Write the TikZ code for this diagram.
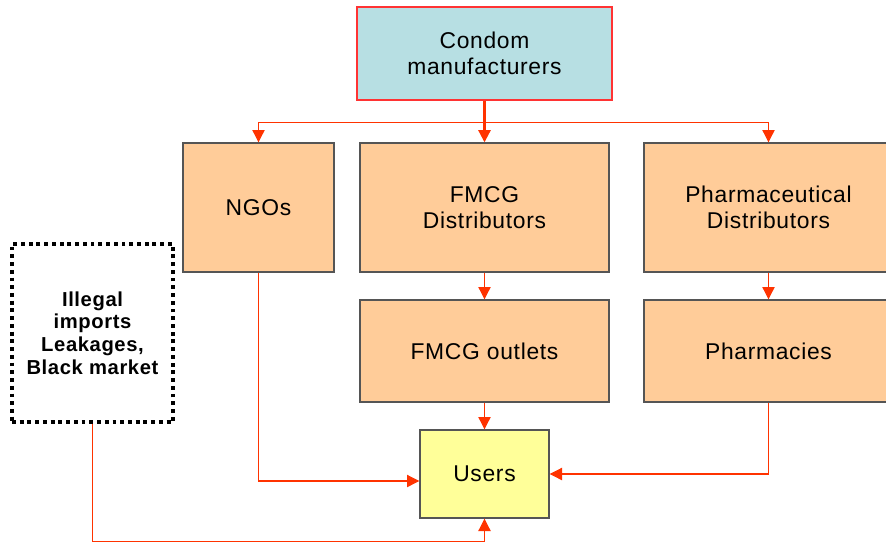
\documentclass[tikz,border=0pt]{standalone}
\usepackage{fontspec}
\setmainfont[LetterSpace=3]{Liberation Sans}
\usetikzlibrary{arrows.meta}
\definecolor{boxcyan}{HTML}{B7DFE3}
\definecolor{boxorange}{HTML}{FFCC99}
\definecolor{boxyellow}{HTML}{FFFF99}
\definecolor{linkred}{HTML}{FF3300}
\definecolor{edgegray}{HTML}{555555}

\begin{document}
\begin{tikzpicture}[->,>={Triangle[length=7pt,width=7pt]},line width=0.6pt,
  link/.style={draw=linkred,color=linkred},
  main node/.style={rectangle,draw=edgegray,fill=boxorange,align=center,line width=0.8pt,
    font=\fontsize{13}{14.8}\selectfont,minimum width=4.98cm,minimum height=2.58cm,inner sep=0pt},
  top node/.style={main node,fill=boxcyan,draw=red!80,minimum width=5.1cm,minimum height=1.86cm},
  user node/.style={main node,fill=boxyellow,minimum width=2.58cm,minimum height=1.76cm},
  side node/.style={rectangle,draw=black,line width=2.2pt,dash pattern=on 2.2pt off 2.2pt,
    align=center,font=\fontsize{11.5}{12.9}\selectfont\bfseries,minimum width=3.22cm,minimum height=3.56cm}]

  \useasboundingbox (0,0) rectangle (17.72,-10.84);

  \node[top node] (maker) at (9.69,-1.07) {Condom\\manufacturers};
  \node[main node,minimum width=3.02cm] (ngo) at (5.17,-4.15) {NGOs};
  \node[main node] (fdist) at (9.69,-4.15) {FMCG\\Distributors};
  \node[main node] (pdist) at (15.37,-4.15) {Pharmaceutical\\Distributors};
  \node[main node,minimum height=2.04cm] (outlet) at (9.69,-7.02) {FMCG outlets};
  \node[main node,minimum height=2.04cm] (pharm) at (15.37,-7.02) {Pharmacies};
  \node[user node] (user) at (9.69,-9.48) {Users};
  \node[side node] (illegal) at (1.85,-6.66) {Illegal\\imports\\Leakages,\\Black market};

  % from the manufacturers
  \draw[link,-,line width=1.2pt] (maker.south) -- ++(0,-0.44) coordinate (split);
  \draw[link] (split) -| (ngo.north);
  \draw[link] (split) -| (pdist.north);
  \draw[link,line width=1.2pt] (split) -- (fdist.north);

  \path[link]
    (fdist) edge (outlet)
    (pdist) edge (pharm)
    (outlet) edge (user);

  % side routes to users
  \draw[link] (ngo.south) |- ([yshift=-0.14cm]user.west);
  \draw[link] (pharm.south) |- (user.east);
  \draw[link] (illegal.south) -- ++(0,-2.36) -| (user.south);
\end{tikzpicture}
\end{document}
